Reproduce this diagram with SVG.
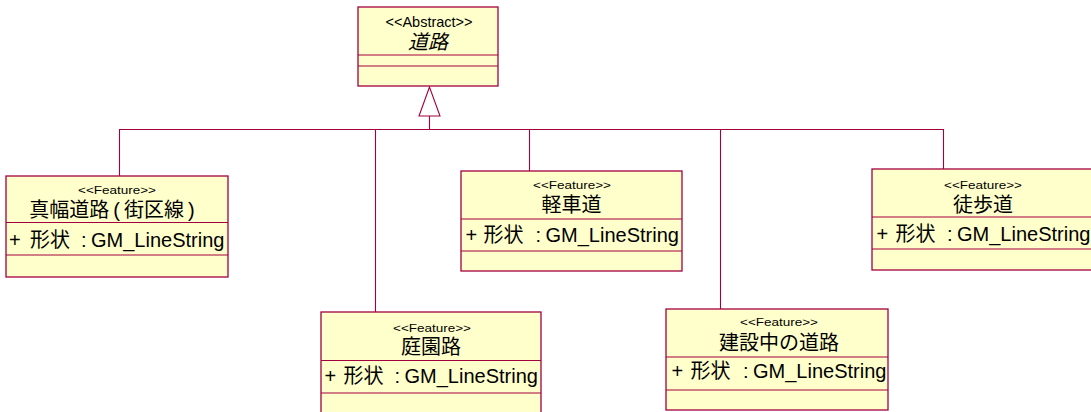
<svg xmlns="http://www.w3.org/2000/svg" width="1091" height="412" viewBox="0 0 1091 412">
  <style>
    .box { fill: #FFFFCC; stroke: #A3003F; stroke-width: 1.3; }
    .sep { stroke: #A3003F; stroke-width: 1.1; fill: none; }
    .wire { stroke: #A3003F; stroke-width: 1.1; fill: none; }
    .head { fill: #FFFFFF; stroke: #A3003F; stroke-width: 1.1; }
    text { font-family: 'Liberation Sans', 'Noto Sans CJK JP', sans-serif; fill: #000000; }
    .stereo { font-size: 11px; text-anchor: middle; }
    .stereoA { font-size: 14.5px; text-anchor: middle; }
    .name { font-size: 20px; text-anchor: middle; }
    .attr { font-size: 20px; }
  </style>

  <!-- generalisation connectors -->
  <g id="connectors">
    <polyline class="wire" points="119.5,176 119.5,129.5 943.5,129.5 943.5,169"/>
    <line class="wire" x1="375.5" y1="129.5" x2="375.5" y2="312"/>
    <line class="wire" x1="529.5" y1="129.5" x2="529.5" y2="171"/>
    <line class="wire" x1="720.5" y1="129.5" x2="720.5" y2="309"/>
    <line class="wire" x1="429.5" y1="116" x2="429.5" y2="129.5"/>
    <polygon class="head" points="429.5,87 419,116 440,116"/>
  </g>

  <!-- abstract base class -->
  <g id="road">
    <rect class="box" x="358" y="7" width="140" height="79"/>
    <line class="sep" x1="358" y1="55" x2="498" y2="55"/>
    <line class="sep" x1="358" y1="66" x2="498" y2="66"/>
    <text class="stereoA" x="429" y="26.5">&lt;&lt;Abstract&gt;&gt;</text>
    <text class="name" x="428" y="49" font-style="italic">道路</text>
  </g>

  <!-- feature classes -->
  <g id="road-width">
    <rect class="box" x="6" y="176" width="222" height="101"/>
    <line class="sep" x1="6" y1="222.5" x2="228" y2="222.5"/>
    <line class="sep" x1="6" y1="255" x2="228" y2="255"/>
    <text class="stereo" x="117" y="194.3" textLength="78" lengthAdjust="spacingAndGlyphs">&lt;&lt;Feature&gt;&gt;</text>
    <text class="name" x="112" y="216.5">真幅道路<tspan dx="4">(</tspan><tspan dx="4">街区線</tspan><tspan dx="4">)</tspan></text>
    <text class="attr" y="246.5"><tspan x="9">+</tspan><tspan x="30">形状</tspan><tspan x="81">:</tspan><tspan x="91">GM_LineString</tspan></text>
  </g>

  <g id="light-vehicle-road">
    <rect class="box" x="461" y="171" width="221" height="100"/>
    <line class="sep" x1="461" y1="219" x2="682" y2="219"/>
    <line class="sep" x1="461" y1="251" x2="682" y2="251"/>
    <text class="stereo" x="572" y="189.3" textLength="78" lengthAdjust="spacingAndGlyphs">&lt;&lt;Feature&gt;&gt;</text>
    <text class="name" x="571.5" y="212">軽車道</text>
    <text class="attr" y="241.5"><tspan x="465.5">+</tspan><tspan x="483.5">形状</tspan><tspan x="535.5">:</tspan><tspan x="545.5">GM_LineString</tspan></text>
  </g>

  <g id="footpath">
    <rect class="box" x="872" y="169" width="222" height="101"/>
    <line class="sep" x1="872" y1="217" x2="1094" y2="217"/>
    <line class="sep" x1="872" y1="249" x2="1094" y2="249"/>
    <text class="stereo" x="983" y="188.5" textLength="78" lengthAdjust="spacingAndGlyphs">&lt;&lt;Feature&gt;&gt;</text>
    <text class="name" x="983" y="211.5">徒歩道</text>
    <text class="attr" y="240.5"><tspan x="876.5">+</tspan><tspan x="895.5">形状</tspan><tspan x="947">:</tspan><tspan x="957">GM_LineString</tspan></text>
  </g>

  <g id="garden-path">
    <rect class="box" x="321" y="312" width="220" height="101"/>
    <line class="sep" x1="321" y1="360.5" x2="541" y2="360.5"/>
    <line class="sep" x1="321" y1="393" x2="541" y2="393"/>
    <text class="stereo" x="432" y="331.5" textLength="78" lengthAdjust="spacingAndGlyphs">&lt;&lt;Feature&gt;&gt;</text>
    <text class="name" x="431" y="353.5">庭園路</text>
    <text class="attr" y="383"><tspan x="324.5">+</tspan><tspan x="343.5">形状</tspan><tspan x="394.5">:</tspan><tspan x="404.5">GM_LineString</tspan></text>
  </g>

  <g id="road-under-construction">
    <rect class="box" x="666" y="309" width="222" height="101"/>
    <line class="sep" x1="666" y1="357" x2="888" y2="357"/>
    <line class="sep" x1="666" y1="390" x2="888" y2="390"/>
    <text class="stereo" x="779" y="326" textLength="78" lengthAdjust="spacingAndGlyphs">&lt;&lt;Feature&gt;&gt;</text>
    <text class="name" x="779" y="350.2">建設中の道路</text>
    <text class="attr" y="377.5"><tspan x="671.5">+</tspan><tspan x="690.5">形状</tspan><tspan x="743">:</tspan><tspan x="753">GM_LineString</tspan></text>
  </g>
</svg>
